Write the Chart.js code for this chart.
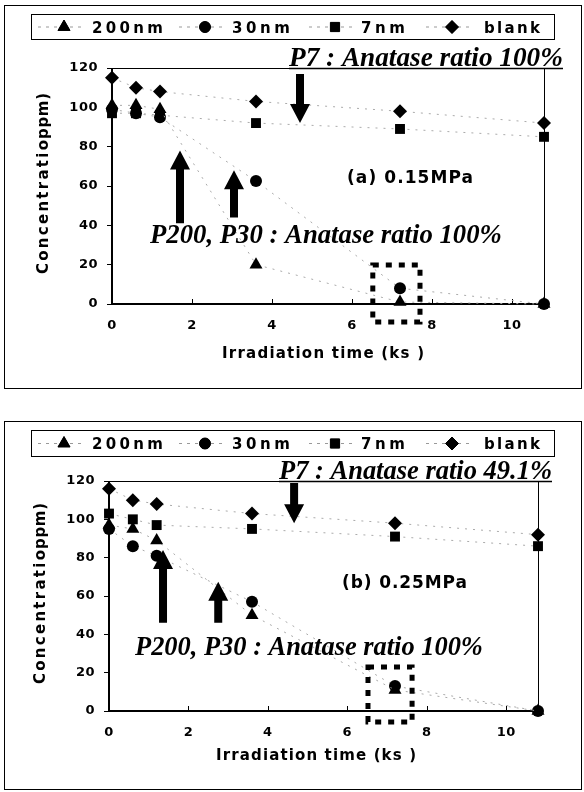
<!DOCTYPE html>
<html><head><meta charset="utf-8">
<script src="https://cdn.jsdelivr.net/npm/chart.js@4"></script>
<style>
body{margin:0;background:#fff;width:584px;height:792px;position:relative;overflow:hidden}
.panel{position:absolute;left:4px;width:578px;border:1px solid #000;box-sizing:border-box}
canvas{position:absolute;left:0}
</style></head><body>
<div class="panel" style="top:5px;height:384px"></div>
<div class="panel" style="top:421px;height:369px"></div>
<canvas id="ca" width="584" height="400" style="top:0"></canvas>
<canvas id="cb" width="584" height="382" style="top:410px"></canvas>
<script>
// ---- data ----
const times = [0, 0.6, 1.2, 3.6, 7.2, 10.8];
const seriesNames = ['200nm', '30nm', '7nm', 'blank'];
const a200 = [101, 101, 99, 20, 1, 0];
const a30 = [99, 97, 95, 62.5, 8, 0];
const a7 = [97, 97, 96, 92, 89, 85];
const aBlank = [115, 110, 108, 103, 98, 92];
const b200 = [97, 95, 89, 50, 11, 0];
const b30 = [95, 86, 81, 57, 13, 0];
const b7 = [103, 100, 97, 95, 91, 86];
const bBlank = [116, 110, 108, 103, 98, 92];
const xTicks = [0, 2, 4, 6, 8, 10];
const yTicks = [0, 20, 40, 60, 80, 100, 120];

const styles = ['triangle', 'circle', 'rect', 'rectRot'];
const radii = [7.5, 6, 7, 7];
const SANS = '"DejaVu Sans"';

function fitSpacing(ctx, text, x, y, w, font) {
  ctx.font = font; ctx.letterSpacing = '0px';
  const m = ctx.measureText(text).width;
  const ls = (w - m) / Math.max(1, text.length - 1);
  ctx.letterSpacing = ls + 'px';
  ctx.textAlign = 'left';
  ctx.fillText(text, x, y);
  ctx.letterSpacing = '0px';
}
function fitSize(ctx, text, x, y, w, style, family) {
  ctx.font = style + ' 20px ' + family;
  const m = ctx.measureText(text).width;
  const s = 20 * w / m;
  ctx.font = style + ' ' + s + 'px ' + family;
  ctx.textAlign = 'left';
  ctx.fillText(text, x, y);
}
function arrow(ctx, px, y0, y1) {
  const dir = y1 > y0 ? 1 : -1;
  const hl = 19, hw = 10, sw = 4;
  ctx.beginPath();
  ctx.moveTo(px - sw, y0);
  ctx.lineTo(px + sw, y0);
  ctx.lineTo(px + sw, y1 - dir * hl);
  ctx.lineTo(px + hw, y1 - dir * hl);
  ctx.lineTo(px, y1);
  ctx.lineTo(px - hw, y1 - dir * hl);
  ctx.lineTo(px - sw, y1 - dir * hl);
  ctx.closePath();
  ctx.fill();
}

const deco = {
  id: 'deco',
  beforeDraw(chart) { chart.ctx.letterSpacing = '0.5px'; },
  beforeDatasetsDraw(chart) {
    const {ctx, chartArea: ca, scales: {x}} = chart;
    ctx.save();
    ctx.letterSpacing = '0px';
    ctx.strokeStyle = '#000';
    ctx.lineWidth = 1;
    ctx.beginPath(); ctx.moveTo(ca.left, ca.top + 0.5); ctx.lineTo(ca.right + 0.5, ca.top + 0.5); ctx.lineTo(ca.right + 0.5, ca.bottom); ctx.stroke();
    ctx.lineWidth = 2;
    ctx.beginPath(); ctx.moveTo(ca.left, ca.top); ctx.lineTo(ca.left, ca.bottom); ctx.lineTo(ca.right, ca.bottom); ctx.stroke();
    ctx.lineWidth = 1;
    xTicks.forEach(v => { const px = Math.round(x.getPixelForValue(v)) + 0.5; ctx.beginPath(); ctx.moveTo(px, ca.bottom); ctx.lineTo(px, ca.bottom - 5); ctx.stroke(); });
    ctx.restore();
  },
  afterDraw(chart, args, o) {
    const {ctx, chartArea: ca, scales: {x, y}} = chart;
    ctx.save();
    ctx.letterSpacing = '0px';
    ctx.fillStyle = '#000'; ctx.strokeStyle = '#000';
    ctx.textBaseline = 'alphabetic';
    // legend box
    const L = o.legend;
    ctx.lineWidth = 1;
    ctx.strokeRect(L.x0 + 0.5, L.y0 + 0.5, L.x1 - L.x0, L.y1 - L.y0);
    const ly = (L.y0 + L.y1) / 2 + 0.5;
    seriesNames.forEach((name, i) => {
      const mx = L.marks[i];
      ctx.save();
      ctx.strokeStyle = '#999'; ctx.setLineDash([3, 5]); ctx.lineWidth = 1;
      ctx.beginPath(); ctx.moveTo(mx - 26, ly); ctx.lineTo(mx + 22, ly); ctx.stroke();
      ctx.restore();
      Chart.helpers.drawPoint(ctx, {pointStyle: styles[i], radius: radii[i] - 0.5, borderWidth: 1}, mx, ly);
      ctx.fill();
      fitSpacing(ctx, name, L.texts[i][0], ly + 5.5, L.texts[i][1] - L.texts[i][0], 'bold 15px ' + SANS);
    });
    // P7 text underlined on top border
    const t = o.p7;
    fitSize(ctx, t.text, t.x0, ca.top - 2, t.x1 - t.x0, 'italic bold', '"Liberation Serif"');
    ctx.lineWidth = 1.5;
    ctx.beginPath(); ctx.moveTo(t.x0, ca.top + 0.5); ctx.lineTo(t.x1, ca.top + 0.5); ctx.stroke();
    // pressure label
    const p = o.press;
    fitSpacing(ctx, p.text, p.x0, p.base, p.x1 - p.x0, 'bold 17px ' + SANS);
    // P200 text
    const q = o.p200;
    fitSize(ctx, q.text, q.x0, q.base, q.x1 - q.x0, 'italic bold', '"Liberation Serif"');
    // arrows
    o.arrows.forEach(a => arrow(ctx, x.getPixelForValue(a[0]), y.getPixelForValue(a[1]), y.getPixelForValue(a[2])));
    // dotted box
    const b = o.box;
    ctx.save();
    ctx.lineWidth = 5; ctx.setLineDash([6, 7]);
    const bx0 = x.getPixelForValue(b[0]), bx1 = x.getPixelForValue(b[1]);
    const by0 = y.getPixelForValue(b[2]), by1 = y.getPixelForValue(b[3]);
    ctx.strokeRect(bx0, by0, bx1 - bx0, by1 - by0);
    ctx.restore();
    // axis titles
    fitSpacing(ctx, 'Irradiation time (ks )', o.xt.x0, o.xt.base, o.xt.x1 - o.xt.x0, 'bold 15px ' + SANS);
    ctx.save();
    ctx.translate(o.yt.x, o.yt.y0);
    ctx.rotate(-Math.PI / 2);
    fitSpacing(ctx, 'Concentratio', 0, 0, o.yt.len1, 'bold 15px ' + SANS);
    fitSpacing(ctx, 'ppm)', o.yt.len1 + 1, 0, o.yt.len2, 'bold 15px ' + SANS);
    ctx.restore();
    ctx.restore();
  }
};

function makeChart(id, data4, area, opts) {
  const el = document.getElementById(id);
  const W = el.width, H = el.height;
  return new Chart(el, {
    type: 'scatter',
    data: {
      datasets: data4.map((vals, i) => ({
        label: seriesNames[i],
        data: times.map((t, k) => ({x: t, y: vals[k]})),
        showLine: true,
        borderColor: '#aaa',
        borderWidth: 1,
        borderDash: [2, 6],
        pointStyle: styles[i],
        pointRadius: radii[i],
        pointBackgroundColor: '#000',
        pointBorderColor: '#000',
        pointBorderWidth: 0,
        clip: false
      }))
    },
    options: {
      responsive: false,
      animation: false,
      events: [],
      layout: {padding: {left: 0, top: area.top, right: W - area.right, bottom: 0}},
      plugins: {legend: {display: false}, tooltip: {enabled: false}, deco: opts},
      scales: {
        x: {
          type: 'linear', min: 0, max: 10.8,
          afterBuildTicks: s => { s.ticks = xTicks.map(v => ({value: v})); },
          afterFit: s => { s.height = H - area.bottom; },
          grid: {display: true, drawOnChartArea: false, drawTicks: false},
          border: {display: false},
          ticks: {color: '#000', padding: 14, font: {family: SANS, size: 13, weight: 'bold'}, maxRotation: 0}
        },
        y: {
          type: 'linear', min: 0, max: 120,
          afterBuildTicks: s => { s.ticks = yTicks.map(v => ({value: v})); },
          afterFit: s => { s.width = area.left; },
          grid: {display: true, drawOnChartArea: false, drawTicks: true, tickLength: 5, color: '#000'},
          border: {display: false},
          ticks: {color: '#000', padding: 9, font: {family: SANS, size: 13, weight: 'bold'}}
        }
      }
    },
    plugins: [deco]
  });
}

const legendMarks = [64, 205, 335, 452];
const legendTexts = [[92, 163], [232, 290], [361, 405], [484, 540]];

makeChart('ca', [a200, a30, a7, aBlank], {left: 112, right: 544, top: 68, bottom: 304}, {
  legend: {x0: 31, x1: 554, y0: 14, y1: 39, marks: legendMarks, texts: legendTexts},
  p7: {text: 'P7 : Anatase ratio 100%', x0: 289, x1: 563},
  press: {text: '(a) 0.15MPa', x0: 347, x1: 473, base: 183},
  p200: {text: 'P200, P30 : Anatase ratio 100%', x0: 150, x1: 502, base: 243},
  arrows: [[4.7, 117, 92], [1.7, 41, 78], [3.05, 44, 68]],
  box: [6.52, 7.7, 19.8, -9.2],
  xt: {x0: 222, x1: 424, base: 358},
  yt: {x: 48, y0: 274, len1: 134, len2: 46}
});

makeChart('cb', [b200, b30, b7, bBlank], {left: 109, right: 538, top: 71, bottom: 301}, {
  legend: {x0: 31, x1: 554, y0: 20, y1: 46, marks: legendMarks, texts: legendTexts},
  p7: {text: 'P7 : Anatase ratio 49.1%', x0: 279, x1: 552},
  press: {text: '(b) 0.25MPa', x0: 342, x1: 467, base: 178},
  p200: {text: 'P200, P30 : Anatase ratio 100%', x0: 135, x1: 483, base: 245},
  arrows: [[4.66, 119, 98], [1.36, 46, 84], [2.75, 46, 67.5]],
  box: [6.52, 7.63, 23, -5.7],
  xt: {x0: 216, x1: 416, base: 350},
  yt: {x: 45, y0: 274, len1: 134, len2: 46}
});
</script>
</body></html>
